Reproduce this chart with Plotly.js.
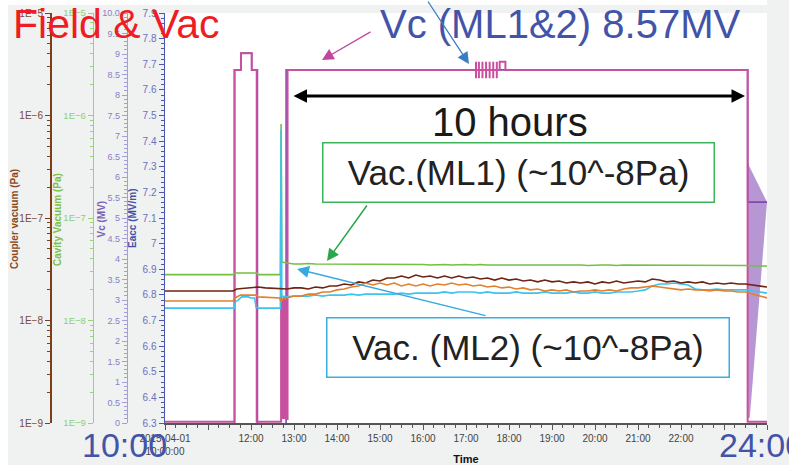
<!DOCTYPE html>
<html><head><meta charset="utf-8">
<script src="https://cdn.plot.ly/plotly-3.0.1.min.js"></script>
<style>html,body{margin:0;padding:0;background:#f0f1f1;}#chart{width:789px;height:465px;}</style>
</head><body><div id="chart"></div>
<script>
// ---------- data ----------
const xTickVals = ['10:00','11:00','12:00','13:00','14:00','15:00','16:00','17:00','18:00','19:00','20:00','21:00','22:00','23:00','24:00'];
const xTickText = ['2015-04-01<br>10:00:00','','12:00','13:00','14:00','15:00','16:00','17:00','18:00','19:00','20:00','21:00','22:00','','2015-04-02<br>00:00:00'];

const eaccTickVals = [6.3,6.4,6.5,6.6,6.7,6.8,6.9,7.0,7.1,7.2,7.3,7.4,7.5,7.6,7.7,7.8,7.9];
const eaccTickText = ['6.3','6.4','6.5','6.6','6.7','6.8','6.9','7','7.1','7.2','7.3','7.4','7.5','7.6','7.7','7.8','7.9'];
const vcTickVals = [0,0.5,1,1.5,2,2.5,3,3.5,4,4.5,5,5.5,6,6.5,7,7.5,8,8.5,9,9.5,10];
const vcTickText = ['0','0.5','1','1.5','2','2.5','3','3.5','4','4.5','5','5.5','6','6.5','7','7.5','8','8.5','9','9.5','10.0'];
const vacTickVals = [1e-9,1e-8,1e-7,1e-6,1e-5];
const vacTickText = ['1E\u22129','1E\u22128','1E\u22127','1E\u22126','1E\u22125'];

// Vc (MV)
const vcTime = ['10:00','11:37','11:37','11:46','11:46','12:01','12:01','12:08','12:08','12:42','12:42','12:43','12:44','12:45','12:46','12:47','12:48','12:49','12:51','12:51',
  '17:14','17:14','17:14','17:14','17:18','17:18','17:18','17:18','17:23','17:23','17:23','17:23','17:28','17:28','17:28','17:28','17:33','17:33','17:33','17:33','17:38','17:38','17:38','17:38','17:43','17:43','17:43','17:43',
  '17:47','17:47','17:55','17:55','23:33','23:33','24:00'];
const vcVal  = [0.03,0.03,8.61,8.61,9.02,9.02,8.61,8.61,0.03,0.03,3.1,0.1,3.0,0.1,3.1,0.1,3.0,0.1,0.1,8.61,
  8.61,8.81,8.41,8.61,8.61,8.81,8.41,8.61,8.61,8.81,8.41,8.61,8.61,8.81,8.41,8.61,8.61,8.81,8.41,8.61,8.61,8.81,8.41,8.61,8.61,8.81,8.41,8.61,
  8.61,8.81,8.81,8.61,8.61,0.03,0.03];

// Eacc (MV/m)
const eaccTime = ['10:00','11:37','11:37','11:46','11:46','12:01','12:01','12:09','12:09','12:49','12:49','23:33','23:33','24:00'];
const eaccVal  = [0,0,7.678,7.678,7.744,7.744,7.678,7.678,0,0,7.678,7.678,7.162,7.162];
const eaccFillTime = ['23:33','24:00','23:36','23:33'];
const eaccFillVal  = [7.315,7.162,6.32,6.32];

// vacuum grid after 12:50
const gridTime = ['12:50','13:00','13:10','13:20','13:30','13:40','13:50','14:00','14:10','14:20','14:30','14:40','14:50','15:00','15:10','15:20','15:30','15:40','15:50','16:00','16:10','16:20','16:30','16:40','16:50','17:00','17:10','17:20','17:30','17:40','17:50','18:00','18:10','18:20','18:30','18:40','18:50','19:00','19:10','19:20','19:30','19:40','19:50','20:00','20:10','20:20','20:30','20:40','20:50','21:00','21:10','21:20','21:30','21:40','21:50','22:00','22:10','22:20','22:30','22:40','22:50','23:00','23:10','23:20','23:30','23:40','23:50','24:00'];

// Coupler vacuum ML1 (brown), Pa
const coupler1PreTime = ['10:00','11:35','11:40','12:00','12:10','12:20','12:40'];
const coupler1PreVal  = [1.94e-8,1.94e-8,2.03e-8,2.08e-8,2.12e-8,2.08e-8,2.03e-8];
const coupler1Val = [2.03e-8,2.08e-8,2.08e-8,2.03e-8,2.12e-8,2.08e-8,2.17e-8,2.17e-8,2.27e-8,2.22e-8,2.38e-8,2.32e-8,2.48e-8,2.43e-8,2.60e-8,2.60e-8,2.72e-8,2.60e-8,2.78e-8,2.66e-8,2.72e-8,2.60e-8,2.72e-8,2.60e-8,2.72e-8,2.60e-8,2.66e-8,2.54e-8,2.60e-8,2.48e-8,2.60e-8,2.48e-8,2.54e-8,2.43e-8,2.48e-8,2.38e-8,2.48e-8,2.38e-8,2.43e-8,2.32e-8,2.38e-8,2.32e-8,2.38e-8,2.27e-8,2.38e-8,2.32e-8,2.43e-8,2.32e-8,2.38e-8,2.43e-8,2.38e-8,2.54e-8,2.48e-8,2.38e-8,2.43e-8,2.32e-8,2.38e-8,2.32e-8,2.38e-8,2.27e-8,2.32e-8,2.27e-8,2.32e-8,2.27e-8,2.27e-8,2.22e-8,2.17e-8,2.12e-8];

// Coupler vacuum ML2 (orange), Pa
const coupler2PreTime = ['10:00','11:35','11:38','11:45','12:08','12:10','12:40','12:42','12:45'];
const coupler2PreVal  = [1.55e-8,1.55e-8,1.66e-8,1.77e-8,1.77e-8,1.70e-8,1.66e-8,1.52e-8,1.66e-8];
const coupler2Val = [1.66e-8,1.73e-8,1.73e-8,1.81e-8,1.81e-8,1.90e-8,1.90e-8,1.99e-8,2.03e-8,2.12e-8,2.17e-8,2.32e-8,2.22e-8,2.32e-8,2.22e-8,2.32e-8,2.17e-8,2.27e-8,2.17e-8,2.27e-8,2.17e-8,2.27e-8,2.22e-8,2.32e-8,2.22e-8,2.27e-8,2.17e-8,2.22e-8,2.12e-8,2.17e-8,2.08e-8,2.12e-8,2.03e-8,2.08e-8,1.99e-8,2.03e-8,1.94e-8,1.99e-8,1.94e-8,1.99e-8,1.90e-8,1.94e-8,1.94e-8,1.99e-8,1.94e-8,1.99e-8,1.94e-8,2.03e-8,2.08e-8,2.08e-8,2.12e-8,2.17e-8,2.12e-8,2.08e-8,2.03e-8,1.99e-8,2.03e-8,1.99e-8,1.99e-8,1.94e-8,1.99e-8,1.94e-8,1.94e-8,1.90e-8,1.90e-8,1.81e-8,1.73e-8,1.66e-8];

// Cavity vacuum ML1 (green), Pa
const cavity1PreTime = ['10:00','11:35','11:38','12:08','12:10','12:41','12:42','12:43'];
const cavity1PreVal  = [2.80e-8,2.80e-8,2.91e-8,2.91e-8,2.80e-8,2.80e-8,8.26e-7,3.72e-8];
const cavity1Val = [3.64e-8,3.56e-8,3.56e-8,3.60e-8,3.56e-8,3.56e-8,3.52e-8,3.56e-8,3.56e-8,3.52e-8,3.56e-8,3.56e-8,3.52e-8,3.56e-8,3.52e-8,3.52e-8,3.56e-8,3.52e-8,3.52e-8,3.52e-8,3.48e-8,3.52e-8,3.52e-8,3.48e-8,3.52e-8,3.52e-8,3.48e-8,3.52e-8,3.48e-8,3.48e-8,3.52e-8,3.48e-8,3.48e-8,3.52e-8,3.48e-8,3.48e-8,3.48e-8,3.52e-8,3.48e-8,3.48e-8,3.48e-8,3.48e-8,3.44e-8,3.48e-8,3.48e-8,3.48e-8,3.44e-8,3.48e-8,3.48e-8,3.48e-8,3.44e-8,3.48e-8,3.48e-8,3.44e-8,3.48e-8,3.44e-8,3.48e-8,3.44e-8,3.44e-8,3.48e-8,3.44e-8,3.44e-8,3.44e-8,3.44e-8,3.44e-8,3.40e-8,3.40e-8,3.40e-8];

// Cavity vacuum ML2 (cyan), Pa
const cavity2PreTime = ['10:00','11:37','11:38','11:42','11:47','11:56','12:00','12:05','12:07','12:10','12:41','12:42','12:43'];
const cavity2PreVal  = [1.32e-8,1.32e-8,1.52e-8,1.58e-8,1.70e-8,1.70e-8,1.66e-8,1.66e-8,1.35e-8,1.32e-8,1.32e-8,7.2e-7,1.73e-8];
const cavity2Val = [1.70e-8,1.73e-8,1.73e-8,1.73e-8,1.77e-8,1.73e-8,1.77e-8,1.77e-8,1.77e-8,1.81e-8,1.77e-8,1.81e-8,1.81e-8,1.81e-8,1.81e-8,1.81e-8,1.85e-8,1.81e-8,1.85e-8,1.85e-8,1.85e-8,1.85e-8,1.90e-8,1.85e-8,1.90e-8,1.90e-8,1.90e-8,1.85e-8,1.90e-8,1.85e-8,1.85e-8,1.85e-8,1.90e-8,1.85e-8,1.85e-8,1.85e-8,1.90e-8,1.85e-8,1.85e-8,1.85e-8,1.90e-8,1.85e-8,1.85e-8,1.90e-8,1.85e-8,1.85e-8,1.90e-8,1.90e-8,1.90e-8,1.94e-8,1.99e-8,2.17e-8,2.27e-8,2.27e-8,2.32e-8,2.27e-8,2.22e-8,2.03e-8,1.99e-8,1.99e-8,2.03e-8,1.99e-8,1.99e-8,1.99e-8,1.99e-8,1.94e-8,1.90e-8,1.85e-8];

// ---------- helpers ----------
const D = s => (s === '24:00' ? '2015-04-02 00:00' : '2015-04-01 ' + s);
const FONT = 'Liberation Sans, Arial, sans-serif';
const PW = 767, PT = 13, PB = 423;
const PX = X => X / PW;
const PY = Y => (PB - Y) / (PB - PT);

const logMinor = [];
for (let e = -9; e < -5; e++) for (let m = 2; m <= 9; m++) logMinor.push(m * Math.pow(10, e));

const traces = [
  {x: eaccFillTime.map(D), y: eaccFillVal, yaxis: 'y', type: 'scatter', mode: 'lines', fill: 'toself', fillcolor: 'rgba(165,125,200,0.8)', line: {width: 0}, hoverinfo: 'skip'},
  {x: eaccTime.map(D), y: eaccVal, yaxis: 'y', type: 'scatter', mode: 'lines', line: {color: '#7c4bb0', width: 1.6}},
  {x: vcTime.map(D), y: vcVal, yaxis: 'y2', type: 'scatter', mode: 'lines', line: {color: '#c8509f', width: 2}},
  {x: cavity1PreTime.concat(gridTime).map(D), y: cavity1PreVal.concat(cavity1Val), yaxis: 'y3', type: 'scatter', mode: 'lines', line: {color: '#74c043', width: 1.6}},
  {x: cavity2PreTime.concat(gridTime).map(D), y: cavity2PreVal.concat(cavity2Val), yaxis: 'y3', type: 'scatter', mode: 'lines', line: {color: '#3ec2ee', width: 1.6}},
  {x: coupler1PreTime.concat(gridTime).map(D), y: coupler1PreVal.concat(coupler1Val), yaxis: 'y4', type: 'scatter', mode: 'lines', line: {color: '#6e2412', width: 1.6}},
  {x: coupler2PreTime.concat(gridTime).map(D), y: coupler2PreVal.concat(coupler2Val), yaxis: 'y4', type: 'scatter', mode: 'lines', line: {color: '#e3802c', width: 1.6}}
];

function yAx(o) {
  return Object.assign({
    showgrid: false, zeroline: false, showline: true, linewidth: 1.5,
    ticks: 'outside', ticklen: 5, tickwidth: 1, side: 'left', automargin: false,
    fixedrange: true
  }, o);
}

function axTitle(text, X, color) {
  return {text: text, xref: 'paper', yref: 'paper', x: PX(X), y: PY(219), xanchor: 'center', yanchor: 'middle',
          textangle: -90, showarrow: false, font: {family: FONT, size: 10, color: color, weight: 'bold'}};
}

const layout = {
  width: 789, height: 465,
  margin: {l: 0, r: 22, t: PT, b: 465 - PB, pad: 0},
  paper_bgcolor: '#f0f1f1', plot_bgcolor: '#ffffff',
  showlegend: false,
  font: {family: FONT, size: 10, color: '#333'},
  title: {text: 'Field &amp; Vac', font: {family: FONT, size: 41, color: '#ee1d24'}, x: 13 / 789, xanchor: 'left', xref: 'container', y: 1 - 24 / 465, yref: 'container', yanchor: 'middle'},
  xaxis: {
    type: 'date', domain: [165 / PW, 1], range: [D('10:00'), D('24:00')],
    tickmode: 'array', tickvals: xTickVals.map(D), ticktext: xTickText,
    ticks: 'outside', ticklen: 5, tickcolor: '#555', tickwidth: 1,
    showline: true, linecolor: '#555', linewidth: 1.5,
    showgrid: false, zeroline: false, automargin: false,
    tickfont: {family: FONT, size: 10, color: '#444'},
    minor: {tickmode: 'linear', tick0: D('10:00'), dtick: 15 * 60 * 1000, ticks: 'outside', ticklen: 3, tickcolor: '#555', showgrid: false},
    title: {text: 'Time', font: {family: FONT, size: 11, color: '#111', weight: 'bold'}, standoff: 0}
  },
  yaxis: yAx({
    range: [6.3, 7.9], anchor: 'x', linecolor: '#4b57b3', tickcolor: '#4b57b3',
    tickmode: 'array', tickvals: eaccTickVals, ticktext: eaccTickText,
    tickfont: {family: FONT, size: 10, color: '#6a70c0'},
    minor: {tickmode: 'linear', tick0: 6.3, dtick: 0.02, ticks: 'outside', ticklen: 3, tickcolor: '#4b57b3'}
  }),
  yaxis2: yAx({
    overlaying: 'y', anchor: 'free', position: 126.7 / PW, range: [0, 10],
    linecolor: '#a59dd8', tickcolor: '#a59dd8',
    tickmode: 'array', tickvals: vcTickVals, ticktext: vcTickText,
    tickfont: {family: FONT, size: 9, color: '#8a80c8'},
    minor: {tickmode: 'linear', tick0: 0, dtick: 0.1, ticks: 'outside', ticklen: 3, tickcolor: '#a59dd8'}
  }),
  yaxis3: yAx({
    overlaying: 'y', anchor: 'free', position: 92.7 / PW, type: 'log', range: [-9, -5],
    linecolor: '#98d37a', tickcolor: '#98d37a',
    tickmode: 'array', tickvals: vacTickVals, ticktext: vacTickText,
    tickfont: {family: FONT, size: 9.5, color: '#8fd06f'},
    minor: {tickmode: 'array', tickvals: logMinor, ticks: 'outside', ticklen: 3, tickcolor: '#98d37a'}
  }),
  yaxis4: yAx({
    overlaying: 'y', anchor: 'free', position: 50 / PW, type: 'log', range: [-9, -5],
    linecolor: '#7b3f1c', tickcolor: '#7b3f1c',
    tickmode: 'array', tickvals: vacTickVals, ticktext: vacTickText,
    tickfont: {family: FONT, size: 10, color: '#7a4a35'},
    minor: {tickmode: 'array', tickvals: logMinor, ticks: 'outside', ticklen: 3, tickcolor: '#7b3f1c'}
  }),
  shapes: [
    {type: 'rect', xref: 'paper', yref: 'paper', x0: 0, x1: 1, y0: PY(5), y1: PY(-2), fillcolor: '#ffffff', line: {width: 0}, layer: 'below'},
    {type: 'rect', xref: 'paper', yref: 'paper', x0: -0.01, x1: PX(8), y0: PY(470), y1: PY(-2), fillcolor: '#ffffff', line: {width: 0}, layer: 'below'}
  ],
  annotations: [
    axTitle('Coupler vacuum (Pa)', 14, '#8a4a1c'),
    axTitle('Cavity Vacuum (Pa)', 57, '#7cc246'),
    axTitle('Vc (MV)', 100.5, '#7b61b5'),
    axTitle('Eacc (MV/m)', 132, '#4250a8'),
    {text: 'Vc (ML1&amp;2) 8.57MV', xref: 'paper', yref: 'paper', x: PX(560), y: PY(24), xanchor: 'center', yanchor: 'middle', showarrow: false, font: {family: FONT, size: 40, color: '#4354a8'}},
    {text: '10 hours', xref: 'paper', yref: 'paper', x: PX(510), y: PY(122), xanchor: 'center', yanchor: 'middle', showarrow: false, font: {family: FONT, size: 40, color: '#1a1a1a'}},
    {text: 'Vac.(ML1) (~10^-8Pa)', xref: 'paper', yref: 'paper', x: PX(518.5), y: PY(172.5), xanchor: 'center', yanchor: 'middle', showarrow: false, width: 388, height: 56, borderpad: 1, borderwidth: 1.5, bordercolor: '#3db55b', bgcolor: '#ffffff', font: {family: FONT, size: 35, color: '#222'}},
    {text: 'Vac. (ML2) (~10^-8Pa)', xref: 'paper', yref: 'paper', x: PX(528), y: PY(347.5), xanchor: 'center', yanchor: 'middle', showarrow: false, width: 399, height: 56, borderpad: 1, borderwidth: 1.5, bordercolor: '#39aee1', bgcolor: '#ffffff', font: {family: FONT, size: 35, color: '#222'}},
    {text: '10:00', xref: 'paper', yref: 'paper', x: PX(124), y: PY(444.5), xanchor: 'center', yanchor: 'middle', showarrow: false, font: {family: FONT, size: 34, color: '#4354a8'}},
    {text: '24:00', xref: 'paper', yref: 'paper', x: PX(717), y: PY(444.5), xanchor: 'left', yanchor: 'middle', showarrow: false, font: {family: FONT, size: 34, color: '#4354a8'}},
    {text: '', xref: 'paper', yref: 'paper', x: PX(745), y: PY(96), ax: -453, ay: 0, showarrow: true, arrowside: 'end+start', arrowhead: 2, startarrowhead: 2, arrowsize: 0.9, startarrowsize: 0.9, arrowwidth: 3, arrowcolor: '#000', standoff: 0, startstandoff: 0},
    {text: '', xref: 'paper', yref: 'paper', x: PX(327), y: PY(261), ax: 41, ay: -57, showarrow: true, arrowhead: 2, arrowsize: 1.6, arrowwidth: 1.5, arrowcolor: '#2aa74b', standoff: 0},
    {text: '', xref: 'paper', yref: 'paper', x: PX(297), y: PY(269), ax: 190, ay: 47, showarrow: true, arrowhead: 2, arrowsize: 1.6, arrowwidth: 1.5, arrowcolor: '#35a9e0', standoff: 0},
    {text: '', xref: 'paper', yref: 'paper', x: PX(322), y: PY(60), ax: 50, ay: -29, showarrow: true, arrowhead: 2, arrowsize: 1.8, arrowwidth: 1.3, arrowcolor: '#c3469c', standoff: 0},
    {text: '', xref: 'paper', yref: 'paper', x: PX(469), y: PY(64), ax: -42, ay: -67, showarrow: true, arrowhead: 2, arrowsize: 1.8, arrowwidth: 1.3, arrowcolor: '#3b7dc5', standoff: 0}
  ]
};

Plotly.newPlot('chart', traces, layout, {staticPlot: true, displayModeBar: false});
</script>
</body></html>
